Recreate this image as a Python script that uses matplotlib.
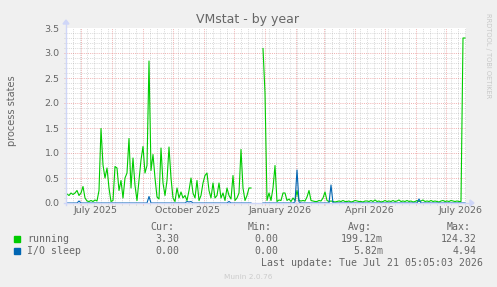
import datetime as dt
import numpy as np
import matplotlib
matplotlib.use("Agg")
import matplotlib.pyplot as plt
from matplotlib.patches import Rectangle, Polygon
from matplotlib.lines import Line2D

# ---------------- data (sampled every 2 days, day index from window start) ----------------
nan = float("nan")
running = [
    0.18, 0.15, 0.20, 0.17, 0.20, 0.25, 0.15, 0.20, 0.33, 0.10,
    0.04, 0.03, 0.05, 0.03, 0.06, 0.04, 0.25, 1.49, 0.76, 0.50,
    0.70, 0.30, 0.03, 0.05, 0.73, 0.70, 0.25, 0.45, 0.10, 0.50,
    0.60, 1.29, 0.30, 0.90, 0.35, 0.05, 0.45, 0.86, 1.13, 0.60,
    0.75, 2.84, 0.65, 0.97, 0.50, 0.12, 0.08, 1.10, 0.40, 0.15,
    0.45, 1.12, 0.50, 0.10, 0.03, 0.30, 0.10, 0.22, 0.10, 0.15,
    0.05, 0.25, 0.50, 0.20, 0.10, 0.45, 0.05, 0.15, 0.40, 0.55,
    0.60, 0.25, 0.10, 0.40, 0.10, 0.15, 0.40, 0.10, 0.20, 0.05,
    0.30, 0.15, 0.08, 0.55, 0.05, 0.10, 0.20, 1.07, 0.30, 0.05,
    0.15, 0.30, 0.30, nan, nan, nan, nan, nan, 3.09, 2.20,
    0.05, 0.20, 0.05, 0.30, 0.75, 0.03, 0.06, 0.05, 0.20, 0.20,
    0.05, 0.08, 0.03, 0.10, 0.05, 0.25, 0.05, 0.04, 0.05, 0.04,
    0.12, 0.25, 0.05, 0.04, 0.03, 0.03, 0.05, 0.04, 0.10, 0.22,
    0.05, 0.03, 0.04, 0.03, 0.02, 0.03, 0.04, 0.03, 0.05, 0.03,
    0.03, 0.04, 0.02, 0.03, 0.05, 0.04, 0.03, 0.03, 0.02, 0.04,
    0.04, 0.03, 0.05, 0.03, 0.06, 0.03, 0.04, 0.02, 0.03, 0.05,
    0.03, 0.04, 0.03, 0.05, 0.03, 0.04, 0.06, 0.03, 0.04, 0.03,
    0.05, 0.03, 0.04, 0.02, 0.03, 0.05, 0.03, 0.04, 0.06, 0.03,
    0.04, 0.03, 0.05, 0.03, 0.04, 0.03, 0.02, 0.04, 0.05, 0.03,
    0.04, 0.03, 0.05, 0.04, 0.03, 0.04, 0.03, 0.03, 3.30, 3.30,
]
io_sleep = [
    0, 0, 0, 0, 0, 0, 0.04, 0, 0, 0,
    0, 0, 0, 0, 0, 0, 0, 0, 0, 0,
    0, 0, 0, 0, 0, 0, 0, 0, 0, 0,
    0, 0, 0, 0, 0, 0, 0, 0, 0, 0,
    0, 0.13, 0, 0, 0, 0, 0, 0, 0, 0,
    0, 0, 0, 0, 0, 0, 0, 0, 0, 0,
    0.03, 0.02, 0.03, 0, 0, 0, 0, 0, 0, 0,
    0, 0, 0, 0, 0, 0, 0, 0, 0, 0,
    0, 0.03, 0, 0, 0, 0, 0, 0, 0, 0,
    0, 0, 0, nan, nan, nan, nan, nan, 0, 0,
    0, 0, 0, 0, 0, 0, 0, 0, 0, 0,
    0, 0, 0, 0, 0.02, 0.66, 0.02, 0, 0, 0,
    0, 0, 0, 0, 0, 0, 0, 0, 0, 0,
    0, 0, 0.36, 0, 0, 0, 0, 0, 0, 0,
    0, 0, 0, 0, 0, 0, 0, 0, 0, 0,
    0, 0, 0, 0, 0, 0, 0, 0, 0, 0,
    0, 0, 0, 0, 0, 0, 0, 0, 0, 0,
    0, 0, 0, 0, 0, 0, 0.08, 0, 0, 0,
    0, 0, 0, 0, 0, 0, 0, 0, 0, 0,
    0, 0, 0, 0, 0, 0, 0, 0, 0, 0,
]
series_names = ["running", "I/O sleep"]
series_colors = ["#00CC00", "#0066B3"]
cur_vals = ["3.30", "0.00"]
min_vals = ["0.00", "0.00"]
avg_vals = ["199.12m", "5.82m"]
max_vals = ["124.32", "4.94"]
y_ticks = [0.0, 0.5, 1.0, 1.5, 2.0, 2.5, 3.0, 3.5]
x_label_months = [(2025, 7), (2025, 10), (2026, 1), (2026, 4), (2026, 7)]
title = "VMstat - by year"
ylabel = "process states"
last_update = "Last update: Tue Jul 21 05:05:03 2026"

# ---------------- layout ----------------
W, H = 497, 287
FONT = "#666666"
fig = plt.figure(figsize=(W / 100, H / 100), dpi=100, facecolor="#F0F0F0")


def fx(x):
    return x / W


def fy(y):
    return 1 - y / H


L, R, T, B = 66, 466, 28, 203
ax = fig.add_axes([fx(L), fy(B), (R - L) / W, (B - T) / H])
ax.set_facecolor("white")
for s in ax.spines.values():
    s.set_visible(False)

end = dt.datetime(2026, 7, 21, 5, 5, 3)
start = end - dt.timedelta(days=400)
day_index = np.arange(1, 400, 2)
times = [start + dt.timedelta(days=int(d)) for d in day_index]
ax.set_xlim(start, end)
ax.set_ylim(0, 3.5)

# grid
px_y = 3.5 / (B - T)
px_x = dt.timedelta(days=400 / (R - L))
minor_col = (0.56, 0.56, 0.56, 0.35)
major_col = (0.87, 0.31, 0.31, 0.45)
for i in range(1, 35):
    v = i / 10
    col = major_col if i % 5 == 0 else minor_col
    ax.plot([start - 2 * px_x, end], [v, v], color=col, lw=0.7,
            ls=(0, (1, 1.2)), clip_on=False, zorder=1)
# weekly minor vertical lines (Mondays) and monthly major lines
d0 = dt.datetime(2025, 6, 16)
wk = d0
while wk < end:
    if wk > start and wk.day != 1:
        ax.plot([wk, wk], [-2 * px_y, 3.5], color=minor_col, lw=0.7,
                ls=(0, (1, 1.2)), clip_on=False, zorder=1)
    wk += dt.timedelta(days=7)
y, m = 2025, 7
while dt.datetime(y, m, 1) < end:
    t = dt.datetime(y, m, 1)
    ax.plot([t, t], [-2 * px_y, 3.5], color=major_col, lw=0.7,
            ls=(0, (1, 1.2)), clip_on=False, zorder=1)
    m += 1
    if m > 12:
        m, y = 1, y + 1

# axes with arrows (figure pixel coords)
AX = "#CFD6F8"
fig.add_artist(Line2D([fx(L - 2), fx(R + 4)], [fy(B), fy(B)], color=AX, lw=1, zorder=2))
fig.add_artist(Line2D([fx(L), fx(L)], [fy(B + 2), fy(T - 4)], color=AX, lw=1, zorder=2))
fig.add_artist(Polygon([[fx(R + 4), fy(B - 3)], [fx(R + 8), fy(B)], [fx(R + 4), fy(B + 3)]],
                       closed=True, color=AX, transform=fig.transFigure, zorder=2))
fig.add_artist(Polygon([[fx(L - 3), fy(T - 4)], [fx(L), fy(T - 8)], [fx(L + 3), fy(T - 4)]],
                       closed=True, color=AX, transform=fig.transFigure, zorder=2))

# data lines
ax.plot(times, running, color=series_colors[0], lw=0.8, zorder=3, clip_on=False)
ax.plot(times, io_sleep, color=series_colors[1], lw=0.8, zorder=4, clip_on=False)

# ticks
ax.set_yticks(y_ticks)
ax.set_yticklabels([f"{v:.1f}" for v in y_ticks])
lab_pos = [dt.datetime(yy, mm, 1) + dt.timedelta(days=15) for yy, mm in x_label_months]
ax.set_xticks(lab_pos)
ax.set_xticklabels([dt.datetime(yy, mm, 1).strftime("%B %Y") for yy, mm in x_label_months])
ax.tick_params(axis="both", length=0, colors=FONT, labelsize=6.8)
ax.tick_params(axis="y", pad=4.5)
ax.tick_params(axis="x", pad=2.5)

# titles
fig.text(fx(248), fy(19), title, ha="center", va="center", fontsize=9, color=FONT)
fig.text(fx(12), fy(111), ylabel, ha="center", va="center", rotation=90, fontsize=7, color=FONT)
fig.text(fx(488), fy(13), "RRDTOOL / TOBI OETIKER", ha="center", va="top", rotation=270,
         fontsize=4.8, color="#C8C8C8")
fig.text(fx(248), fy(277), "Munin 2.0.76", ha="center", va="center", fontsize=5.3, color="#CCCCCC")

# legend
mono = dict(family="DejaVu Sans Mono", fontsize=7.1, color=FONT, va="center")
for lbl, xl in zip(["Cur:", "Min:", "Avg:", "Max:"], [150, 248, 348, 447]):
    fig.text(fx(xl), fy(227), lbl, ha="left", **mono)
rows_y = [239, 251]
for i in range(2):
    yy = rows_y[i]
    fig.add_artist(Rectangle((fx(14), fy(yy + 3)), 6 / W, 6 / H, color=series_colors[i],
                             transform=fig.transFigure))
    fig.text(fx(27), fy(yy), series_names[i], ha="left", **mono)
    for val, xr in zip([cur_vals[i], min_vals[i], avg_vals[i], max_vals[i]], [179, 278, 383, 477]):
        fig.text(fx(xr), fy(yy), val, ha="right", **mono)
fig.text(fx(483), fy(263), last_update, ha="right", **mono)

fig.savefig("out.png", dpi=100, facecolor=fig.get_facecolor())
